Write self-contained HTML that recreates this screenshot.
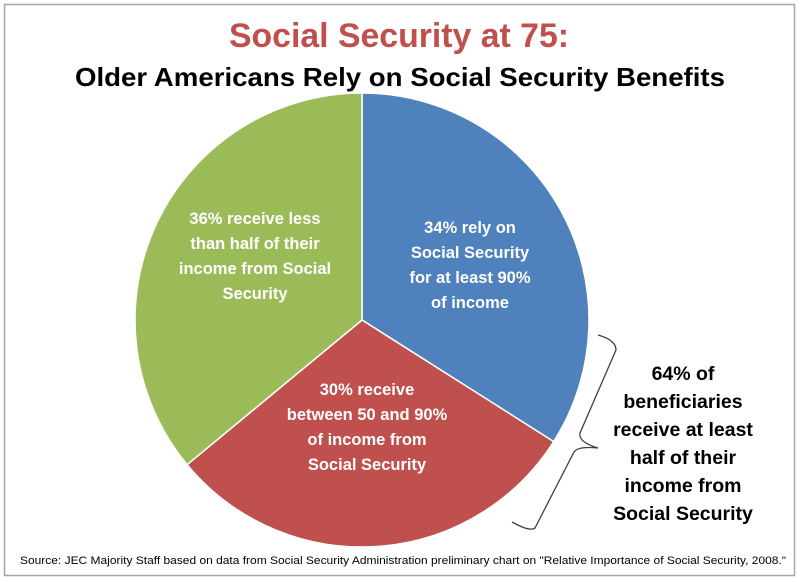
<!DOCTYPE html>
<html><head><meta charset="utf-8"><style>
body{margin:0;width:800px;height:582px;background:#fff;overflow:hidden}
svg{display:block}
text{font-family:"Liberation Sans",sans-serif;font-weight:bold}
</style></head><body>
<svg width="800" height="582" viewBox="0 0 800 582">
<rect x="4.5" y="4.5" width="790" height="571" fill="#fff" stroke="#a6a6a6" stroke-width="1.5"/>
<text x="399" y="47" text-anchor="middle" font-size="34" fill="#C0504D" textLength="340" lengthAdjust="spacingAndGlyphs">Social Security at 75:</text>
<text x="400" y="86" text-anchor="middle" font-size="26" fill="#000" textLength="650" lengthAdjust="spacingAndGlyphs">Older Americans Rely on Social Security Benefits</text>
<g stroke="#fff" stroke-width="1.5">
<path d="M362,320 L362,93 A227,227 0 0 1 553.7,441.6 Z" fill="#4F81BD"/>
<path d="M362,320 L553.7,441.6 A227,227 0 0 1 187.1,464.7 Z" fill="#C0504D"/>
<path d="M362,320 L187.1,464.7 A227,227 0 0 1 362,93 Z" fill="#9BBB59"/>
</g>
<g font-size="16.5" fill="#fff" text-anchor="middle">
<text x="255" y="224">36% receive less</text>
<text x="255" y="249">than half of their</text>
<text x="255" y="274">income from Social</text>
<text x="255" y="299">Security</text>
<text x="470" y="233">34% rely on</text>
<text x="470" y="258">Social Security</text>
<text x="470" y="283">for at least 90%</text>
<text x="470" y="308">of income</text>
<text x="367" y="395">30% receive</text>
<text x="367" y="420">between 50 and 90%</text>
<text x="367" y="445">of income from</text>
<text x="367" y="470">Social Security</text>
</g>
<path d="M598,335 Q616,340 616,350 L580,433 Q578,442 598,448 Q578,446 574,452 L535,528 Q530,532 512,522" fill="none" stroke="#404040" stroke-width="1.3"/>
<g font-size="19.5" fill="#000" text-anchor="middle">
<text x="683" y="380">64% of</text>
<text x="683" y="408">beneficiaries</text>
<text x="683" y="436">receive at least</text>
<text x="683" y="464">half of their</text>
<text x="683" y="492">income from</text>
<text x="683" y="520">Social Security</text>
</g>
<text x="403" y="564" text-anchor="middle" font-size="11" fill="#000" style="font-weight:normal" textLength="766" lengthAdjust="spacingAndGlyphs">Source: JEC Majority Staff based on data from Social Security Administration preliminary chart on "Relative Importance of Social Security, 2008."</text>
</svg>
</body></html>
